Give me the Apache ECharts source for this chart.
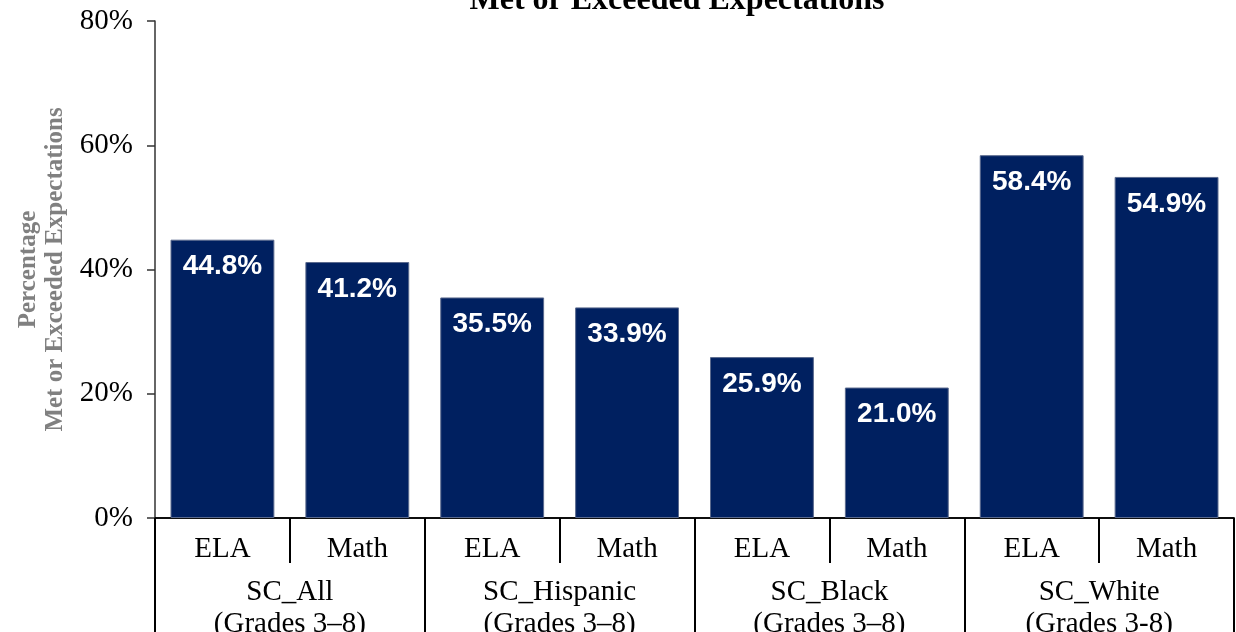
<!DOCTYPE html>
<html>
<head>
<meta charset="utf-8">
<script src="https://cdn.jsdelivr.net/npm/echarts@6/dist/echarts.min.js"></script>
<style>
html,body{margin:0;padding:0;background:#fff;}
#chart{width:1236px;height:632px;}
</style>
</head>
<body>
<div id="chart"></div>
<script>
const titleText = 'Met or Exceeded Expectations';
const subjects = ['ELA', 'Math', 'ELA', 'Math', 'ELA', 'Math', 'ELA', 'Math'];
const groups = ['SC_All\n(Grades 3–8)', 'SC_Hispanic\n(Grades 3–8)', 'SC_Black\n(Grades 3–8)', 'SC_White\n(Grades 3-8)'];
const values = [44.8, 41.2, 35.5, 33.9, 25.9, 21.0, 58.4, 54.9];
const yTicks = { min: 0, max: 80, interval: 20 };
const yName = 'Percentage\nMet or Exceeded Expectations';

const serif = "'Liberation Serif', 'Times New Roman', serif";
const chart = echarts.init(document.getElementById('chart'));
chart.setOption({
  animation: false,
  title: {
    text: titleText,
    left: 672,
    textAlign: 'center',
    top: -20,
    textStyle: { fontFamily: serif, fontSize: 32, fontWeight: 'bold', color: '#000' }
  },
  grid: { left: 155, right: 2, top: 21, bottom: 114, containLabel: false, outerBoundsMode: 'none' },
  xAxis: [
    {
      type: 'category',
      data: subjects,
      position: 'bottom',
      axisLine: { show: true, lineStyle: { color: '#000', width: 1.5 } },
      axisTick: { show: true, interval: 0, length: 45, lineStyle: { color: '#000', width: 2 } },
      axisLabel: { interval: 0, margin: 17, fontFamily: serif, fontSize: 29, color: '#000' }
    },
    {
      type: 'category',
      data: groups,
      position: 'bottom',
      axisLine: { show: true, lineStyle: { color: '#000', width: 1.5 } },
      axisTick: { show: true, interval: 0, length: 130, lineStyle: { color: '#000', width: 2 } },
      axisLabel: { interval: 0, margin: 58, fontFamily: serif, fontSize: 29, lineHeight: 32, color: '#000' }
    }
  ],
  yAxis: {
    type: 'value',
    min: yTicks.min,
    max: yTicks.max,
    interval: yTicks.interval,
    name: yName,
    nameLocation: 'middle',
    nameRotate: 90,
    nameGap: 86,
    nameTextStyle: { fontFamily: serif, fontSize: 25, fontWeight: 'bold', color: '#808080', lineHeight: 27, align: 'center' },
    axisLine: { show: true, lineStyle: { color: '#333', width: 1.5 } },
    axisTick: { show: true, length: 8, lineStyle: { color: '#333', width: 1.5 } },
    splitLine: { show: false },
    axisLabel: { margin: 22, fontFamily: serif, fontSize: 29, color: '#000', formatter: '{value}%' }
  },
  series: [{
    type: 'bar',
    xAxisIndex: 0,
    data: values,
    barWidth: '77%',
    itemStyle: { color: '#002060', borderColor: '#5a6a8e', borderWidth: 1 },
    label: {
      show: true,
      position: 'insideTop',
      distance: 13,
      formatter: p => p.value.toFixed(1) + '%',
      fontFamily: "'Liberation Sans', Arial, sans-serif",
      fontWeight: 'bold',
      fontSize: 28,
      color: '#fff'
    }
  }]
});
</script>
</body>
</html>
